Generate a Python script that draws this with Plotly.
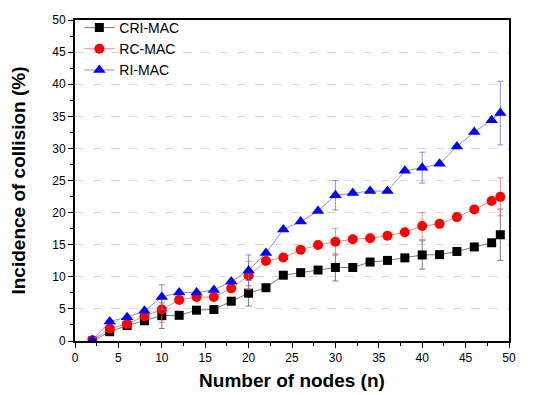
import plotly.graph_objects as go

nodes = [2, 4, 6, 8, 10, 12, 14, 16, 18, 20, 22, 24, 26, 28, 30, 32, 34, 36, 38, 40, 42, 44, 46, 48, 49]

cri_mac = [0.0, 1.45, 2.4, 3.15, 3.95, 4.0, 4.8, 4.9, 6.2, 7.45, 8.3, 10.25, 10.65, 11.05, 11.45,
           11.45, 12.3, 12.55, 12.95, 13.4, 13.45, 13.95, 14.65, 15.3, 16.55]
rc_mac = [0.1, 1.95, 2.65, 3.85, 4.9, 6.4, 6.85, 6.85, 8.2, 10.2, 12.45, 13.0, 14.2, 14.95, 15.45,
          15.85, 16.0, 16.4, 16.95, 17.9, 18.25, 19.3, 20.5, 21.8, 22.45]
ri_mac = [0.1, 3.05, 3.7, 4.7, 6.85, 7.55, 7.55, 7.95, 9.25, 11.0, 13.7, 17.35, 18.6, 20.25, 22.7,
          23.05, 23.35, 23.35, 26.5, 27.0, 27.6, 30.3, 32.55, 34.4, 35.5]

# error bars only at n = 10, 20, 30, 40, 49
cri_err = [0, 0, 0, 0, 2.0, 0, 0, 0, 0, 2.0, 0, 0, 0, 0, 2.1, 0, 0, 0, 0, 2.2, 0, 0, 0, 0, 4.0]
rc_err = [0, 0, 0, 0, 2.0, 0, 0, 0, 0, 2.2, 0, 0, 0, 0, 2.1, 0, 0, 0, 0, 2.1, 0, 0, 0, 0, 2.95]
ri_err = [0, 0, 0, 0, 1.9, 0, 0, 0, 0, 2.4, 0, 0, 0, 0, 2.3, 0, 0, 0, 0, 2.4, 0, 0, 0, 0, 4.95]

series = [
    ("CRI-MAC", cri_mac, cri_err, "black", "rgba(90,90,90,0.8)", "square", 9),
    ("RC-MAC", rc_mac, rc_err, "#ff0000", "rgba(230,110,110,0.8)", "circle", 10),
    ("RI-MAC", ri_mac, ri_err, "#0000ff", "rgba(110,110,230,0.8)", "triangle-up", 11),
]

fig = go.Figure()
for name, ys, errs, mc, lc, sym, sz in series:
    fig.add_trace(go.Scatter(
        x=nodes, y=ys, name=name, mode="lines+markers",
        line=dict(color=lc, width=1),
        marker=dict(symbol=sym, size=sz, color=mc, line=dict(width=0)),
        error_y=dict(type="data", array=errs, visible=True, color=lc, thickness=1, width=3),
    ))

font = "Arial, Liberation Sans, sans-serif"
fig.update_layout(
    width=534, height=395,
    margin=dict(l=75, r=25, t=14, b=54),
    paper_bgcolor="white", plot_bgcolor="white",
    font=dict(family=font, color="black"),
    showlegend=True,
    legend=dict(x=0.01, y=1.025, xanchor="left", yanchor="top", bgcolor="rgba(0,0,0,0)",
                font=dict(size=14, family=font), tracegroupgap=0, itemwidth=30),
    xaxis=dict(
        range=[0, 50], tickmode="linear", tick0=0, dtick=5, automargin=False,
        ticks="outside", ticklen=5, tickwidth=1, tickcolor="black",
        minor=dict(dtick=2.5, ticks="outside", ticklen=3, tickcolor="black", showgrid=False),
        showline=True, linecolor="black", linewidth=2, mirror=True,
        showgrid=False, zeroline=False,
        tickfont=dict(size=12),
        title=dict(text="<b>Number of nodes (n)</b>", font=dict(size=19), standoff=9),
    ),
    yaxis=dict(
        range=[0, 50], tickmode="linear", tick0=0, dtick=5, automargin=False,
        ticks="outside", ticklen=5, tickwidth=1, tickcolor="black",
        minor=dict(dtick=2.5, ticks="outside", ticklen=3, tickcolor="black", showgrid=False),
        showline=True, linecolor="black", linewidth=2, mirror=True,
        showgrid=True, gridcolor="#d9d9d9", griddash="dash", gridwidth=1,
        zeroline=False,
        tickfont=dict(size=12),
        title=dict(text="<b>Incidence of collision (%)</b>", font=dict(size=19), standoff=22),
    ),
)

fig.write_html("out.html")
